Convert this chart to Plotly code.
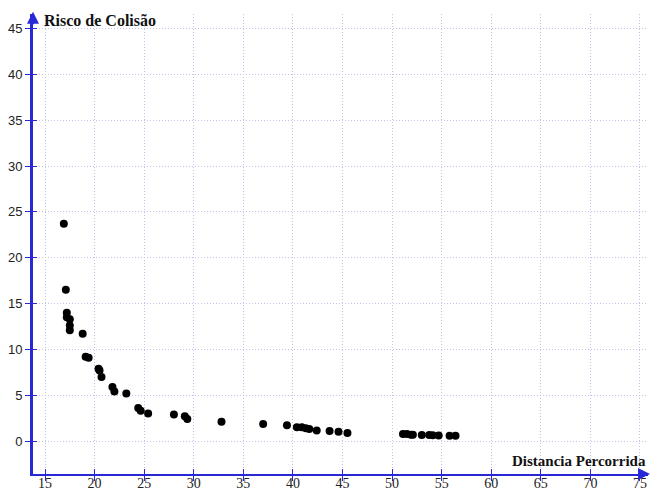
import plotly.graph_objects as go

# Distance travelled vs. collision risk
distancia = [16.9, 17.1, 17.2, 17.2, 17.5, 17.5, 17.5, 18.8, 19.1, 19.4,
             20.4, 20.5, 20.7, 21.8, 22.0, 23.2, 24.4, 24.65, 25.4, 28.0,
             29.1, 29.35, 32.8, 37.0, 39.4, 40.4, 40.9, 41.3, 41.65, 42.4,
             43.7, 44.6, 45.5, 51.1, 51.5, 51.9, 52.1, 53.0, 53.75, 54.1,
             54.7, 55.8, 56.4]
risco = [23.7, 16.5, 14.0, 13.5, 13.3, 12.6, 12.1, 11.7, 9.2, 9.1,
         7.9, 7.7, 7.0, 5.9, 5.4, 5.2, 3.6, 3.3, 3.0, 2.9,
         2.7, 2.4, 2.1, 1.85, 1.74, 1.52, 1.52, 1.41, 1.31, 1.16,
         1.09, 1.01, 0.87, 0.76, 0.76, 0.69, 0.69, 0.66, 0.66, 0.64,
         0.6, 0.57, 0.57]

x_ticks = list(range(15, 80, 5))
y_ticks = list(range(0, 50, 5))
x_range = [13.79, 75.81]
y_range = [-3.59, 46.58]

AXIS = "rgb(40,40,215)"
GRID = "rgb(195,195,238)"

fig = go.Figure()
fig.add_trace(go.Scatter(
    x=distancia, y=risco, mode="markers",
    marker=dict(color="black", size=8),
    hoverinfo="x+y", showlegend=False,
))
# helper trace for the overlay axes (inner tick marks)
fig.add_trace(go.Scatter(x=[None], y=[None], xaxis="x2", yaxis="y2",
                         showlegend=False, hoverinfo="skip"))

fig.update_layout(
    width=651, height=493,
    margin=dict(l=33, r=3, t=14, b=19),
    paper_bgcolor="white", plot_bgcolor="white",
    xaxis=dict(
        range=x_range, tickvals=x_ticks, ticks="outside", ticklen=5,
        tickcolor=AXIS, tickwidth=1, automargin=False,
        ticklabelstandoff=-10,
        showgrid=True, gridcolor=GRID, griddash="1px,2px", gridwidth=1,
        zeroline=False, showline=True, linecolor=AXIS, linewidth=2,
        tickfont=dict(family="Liberation Serif", size=14, color="#222"),
        fixedrange=True,
    ),
    yaxis=dict(
        range=y_range, tickvals=y_ticks, ticks="outside", ticklen=5,
        tickcolor=AXIS, tickwidth=1, automargin=False,
        showgrid=True, gridcolor=GRID, griddash="1px,2px", gridwidth=1,
        zeroline=False, showline=True, linecolor=AXIS, linewidth=3,
        tickfont=dict(family="Liberation Sans", size=13, color="#222"),
        fixedrange=True,
    ),
    xaxis2=dict(
        range=x_range, tickvals=x_ticks, ticks="inside", ticklen=5,
        tickcolor=AXIS, showticklabels=False, showgrid=False,
        automargin=False,
        zeroline=False, overlaying="x", anchor="y2", fixedrange=True,
    ),
    yaxis2=dict(
        range=y_range, tickvals=y_ticks, ticks="inside", ticklen=4,
        tickcolor=AXIS, showticklabels=False, showgrid=False,
        automargin=False,
        zeroline=False, overlaying="y", anchor="x2", fixedrange=True,
    ),
)

# arrowheads at the ends of both axes
fig.add_annotation(x=1.007, y=0, xref="paper", yref="paper",
                   ax=-14, ay=0, showarrow=True, arrowhead=2,
                   arrowsize=1.2, arrowwidth=2, arrowcolor=AXIS, text="")
fig.add_annotation(x=0, y=1.005, xref="paper", yref="paper",
                   ax=0, ay=14, showarrow=True, arrowhead=2,
                   arrowsize=1.2, arrowwidth=2, arrowcolor=AXIS, text="")

# axis titles
fig.add_annotation(x=(42 - 33) / 615, y=1, xref="paper", yref="paper",
                   xanchor="left", yanchor="middle", yshift=-6,
                   text="<b>Risco de Colisão</b>", showarrow=False,
                   font=dict(family="Liberation Serif", size=16, color="#111"))
fig.add_annotation(x=1, y=0, xref="paper", yref="paper",
                   xanchor="right", yanchor="middle", yshift=13,
                   text="<b>Distancia Percorrida</b>", showarrow=False,
                   font=dict(family="Liberation Serif", size=15, color="#111"))

fig.write_html("out.html")
